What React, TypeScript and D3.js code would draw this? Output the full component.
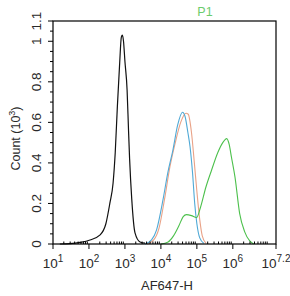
import * as d3 from 'd3';

// log10(AF647-H) positions and counts (x10^3)
const isoLog = [1.19, 1.47, 1.75, 2.03, 2.31, 2.47, 2.58, 2.67, 2.73, 2.79, 2.85, 2.9, 2.93, 2.96, 3.0, 3.06, 3.1, 3.13, 3.19, 3.28, 3.42, 3.56];
const isoCount = [0, 0.002, 0.008, 0.02, 0.045, 0.1, 0.2, 0.3, 0.45, 0.68, 0.88, 1.02, 1.03, 1.0, 0.9, 0.76, 0.56, 0.42, 0.22, 0.055, 0.01, 0.004];

const blueLog = [3.56, 3.74, 3.88, 4.06, 4.19, 4.33, 4.47, 4.6, 4.67, 4.75, 4.81, 4.88, 4.94, 5.0, 5.08, 5.19];
const blueCount = [0, 0.02, 0.07, 0.22, 0.35, 0.46, 0.59, 0.65, 0.63, 0.55, 0.48, 0.35, 0.2, 0.1, 0.03, 0.004];

const orangeLog = [3.62, 3.8, 3.95, 4.1, 4.25, 4.4, 4.55, 4.7, 4.76, 4.85, 4.93, 5.0, 5.08, 5.15, 5.25];
const orangeCount = [0, 0.02, 0.08, 0.22, 0.38, 0.5, 0.6, 0.645, 0.64, 0.55, 0.4, 0.26, 0.12, 0.04, 0.004];

const greenLog = [4.0, 4.2, 4.35, 4.5, 4.62, 4.71, 4.85, 4.99, 5.1, 5.25, 5.41, 5.58, 5.72, 5.83, 5.9, 5.96, 6.06, 6.19, 6.33, 6.47, 6.58];
const greenCount = [0, 0.01, 0.04, 0.09, 0.135, 0.145, 0.14, 0.13, 0.18, 0.28, 0.365, 0.45, 0.5, 0.52, 0.49, 0.43, 0.33, 0.15, 0.06, 0.015, 0];

const yMajor = [0, 0.2, 0.4, 0.6, 0.8, 1, 1.1];
const xDecades = [1, 2, 3, 4, 5, 6];
const xLast = 7.2;

const series = [
  { name: 'isotype', xs: isoLog, ys: isoCount, color: '#111111' },
  { name: 'orange', xs: orangeLog, ys: orangeCount, color: '#e9a287' },
  { name: 'blue', xs: blueLog, ys: blueCount, color: '#4fa9d6' },
  { name: 'green', xs: greenLog, ys: greenCount, color: '#4cc04c' },
];

export default function App() {
  const width = 290;
  const height = 296;
  const margin = { top: 21, right: 14, bottom: 52, left: 53 };
  const x = d3.scaleLinear().domain([1, xLast]).range([margin.left, width - margin.right]);
  const y = d3.scaleLinear().domain([0, 1.1]).range([height - margin.bottom, margin.top]);
  const line = d3
    .line<[number, number]>()
    .x((d) => x(d[0]))
    .y((d) => y(d[1]))
    .curve(d3.curveMonotoneX);

  const yMinor = d3.range(0, 1.1, 0.05).filter((v) => !yMajor.some((m) => Math.abs(m - v) < 1e-6));
  const xMinor: number[] = [];
  for (let dec = 1; dec < 8; dec++) {
    for (let k = 2; k < 10; k++) {
      const v = dec + Math.log10(k);
      if (v < xLast) xMinor.push(v);
    }
  }
  const font = 'Liberation Sans, Arial, sans-serif';
  const y0 = y(0);

  return (
    <svg
      width={width}
      height={height}
      style={{ position: 'absolute', left: 0, top: 0, background: '#fff' }}
      fontFamily={font}
    >
      <rect width={width} height={height} fill="#fff" />
      {series.map((s) => (
        <path
          key={s.name}
          d={line(s.xs.map((v, i) => [v, s.ys[i]] as [number, number])) || ''}
          fill="none"
          stroke={s.color}
          strokeWidth={s.name === 'isotype' ? 1.2 : 1.1}
        />
      ))}
      <rect
        x={margin.left}
        y={margin.top}
        width={width - margin.left - margin.right}
        height={height - margin.top - margin.bottom}
        fill="none"
        stroke="#000"
        strokeWidth={1.2}
      />
      {/* y axis */}
      {yMajor.map((v) => (
        <g key={'ym' + v}>
          <line x1={margin.left - 5} x2={margin.left} y1={y(v)} y2={y(v)} stroke="#000" />
          <text
            transform={`translate(${margin.left - 12},${y(v)}) rotate(-90)`}
            textAnchor="middle"
            fontSize={13.5}
            fill="#2a2a2a"
          >
            {String(v)}
          </text>
        </g>
      ))}
      {yMinor.map((v) => (
        <line key={'yn' + v} x1={margin.left - 3} x2={margin.left} y1={y(v)} y2={y(v)} stroke="#000" />
      ))}
      {/* x axis */}
      {[...xDecades, xLast].map((v) => (
        <g key={'xm' + v}>
          <line x1={x(v)} x2={x(v)} y1={y0} y2={y0 + 5} stroke="#000" />
          <text x={x(v)} y={y0 + 24} textAnchor="middle" fontSize={13.5} fill="#2a2a2a">
            10
            <tspan dy={-6} fontSize={10}>
              {String(v)}
            </tspan>
          </text>
        </g>
      ))}
      {xMinor.map((v) => (
        <line key={'xn' + v} x1={x(v)} x2={x(v)} y1={y0} y2={y0 - 2.5} stroke="#000" />
      ))}
      <text
        transform={`translate(20,${(margin.top + y0) / 2 + 6}) rotate(-90)`}
        textAnchor="middle"
        fontSize={12.5}
        fill="#2a2a2a"
      >
        Count (10
        <tspan dy={-5} fontSize={9}>
          3
        </tspan>
        <tspan dy={5}>)</tspan>
      </text>
      <text x={167} y={290} textAnchor="middle" fontSize={13} fill="#2a2a2a">
        AF647-H
      </text>
      <text x={205} y={16} textAnchor="middle" fontSize={12.5} fill="#6ccc6c">
        P1
      </text>
    </svg>
  );
}
